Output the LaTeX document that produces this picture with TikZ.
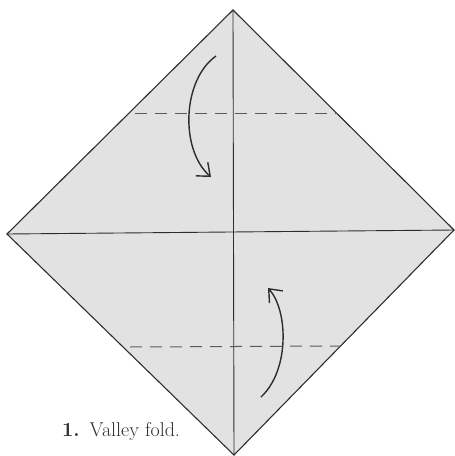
\documentclass[tikz,border=0pt]{standalone}
\usetikzlibrary{arrows.meta}
\definecolor{paper}{RGB}{226,226,226}
\definecolor{ink}{RGB}{45,45,45}
\definecolor{dashink}{RGB}{90,90,90}
\begin{document}
\begin{tikzpicture}[x=1pt,y=-1pt,
  edge/.style={draw=ink,line width=1.1pt},
  crease/.style={draw=ink,line width=0.9pt},
  foldline/.style={draw=dashink,line width=1pt,dash pattern=on 12pt off 8pt},
  foldarrow/.style={draw=ink,line width=1.4pt,-{Straight Barb[length=11pt,width=18pt,line width=1.4pt]}},
  caption/.style={anchor=base west,inner sep=0pt,text=ink,font=\fontsize{20}{23}\selectfont}]
\fill[white] (0,0) rectangle (455,456);
\useasboundingbox (0,0) rectangle (455,456);
\coordinate (T) at (233,10);
\coordinate (L) at (7,234);
\coordinate (R) at (454,230);
\coordinate (B) at (234,455);
\filldraw[fill=paper,edge,line join=miter] (T) -- (R) -- (B) -- (L) -- cycle;
\draw[crease] (T) -- (B);
\draw[crease] (L) -- (R);
\coordinate (u1) at (135,113);
\coordinate (u2) at (338,113);
\coordinate (d1) at (130,347);
\coordinate (d2) at (340,346);
\draw[foldline] (u1) -- (u2);
\draw[foldline] (d1) -- (d2);
\coordinate (a1) at (216,56);
\coordinate (a2) at (211,177);
\draw[foldarrow] (a1) .. controls (182,80) and (180,150) .. (a2);
\coordinate (b1) at (261,397);
\coordinate (b2) at (268,288);
\draw[foldarrow] (b1) .. controls (290,370) and (288,310) .. (b2);
\node[caption] (cap) at (62,436) {{\bfseries 1.}\enspace Valley fold.};
\end{tikzpicture}
\end{document}
